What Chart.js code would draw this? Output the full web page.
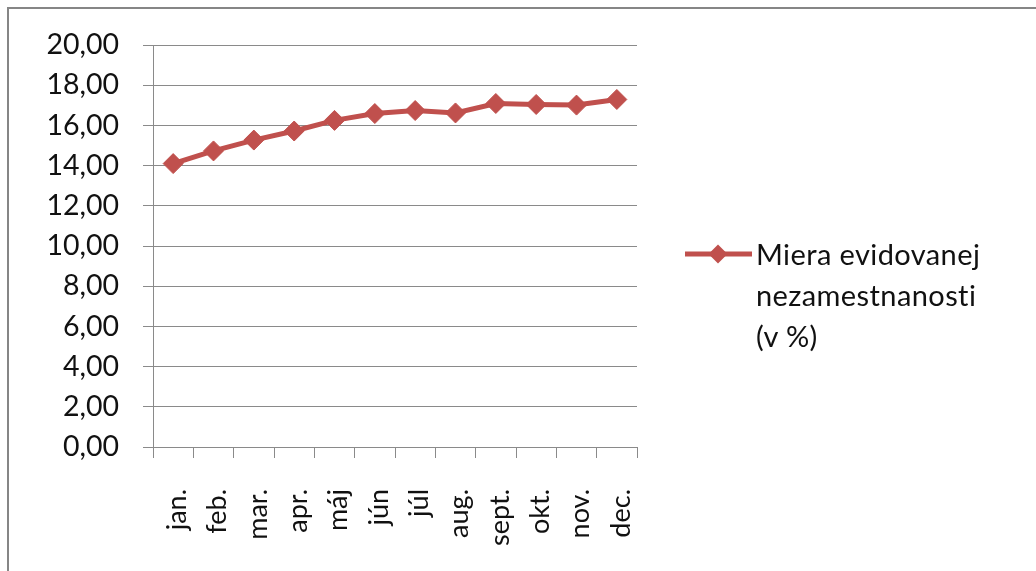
<!DOCTYPE html>
<html>
<head>
<meta charset="utf-8">
<script src="https://cdn.jsdelivr.net/npm/chart.js@4"></script>
<style>
  html, body { margin: 0; padding: 0; background: #fff; }
  #wrap { position: relative; width: 1036px; height: 571px; overflow: hidden; }
  #frame { position: absolute; left: 7px; top: 7px; width: 1040px; height: 600px;
           border-left: 2px solid #868686; border-top: 2px solid #868686; box-sizing: border-box; }
  canvas { position: absolute; left: 0; top: 0; }
  #legend { position: absolute; left: 685px; top: 233px; font-family: Lato, "Open Sans", sans-serif;
            font-size: 29px; line-height: 41px; color: #111; letter-spacing: 0.4px;
            font-variant-ligatures: none; font-feature-settings: "liga" 0; }
  #legend .item { position: relative; padding-left: 71px; white-space: nowrap; }
  #legend .sw { position: absolute; left: 0; top: 9px; }
</style>
</head>
<body>
<div id="wrap">
  <canvas id="c" width="1036" height="571"></canvas>
  <div id="frame"></div>
  <div id="legend"></div>
</div>
<script>
const categories = ["jan.", "feb.", "mar.", "apr.", "máj", "jún", "júl", "aug.", "sept.", "okt.", "nov.", "dec."];
const seriesValues = [14.10, 14.73, 15.27, 15.72, 16.25, 16.59, 16.74, 16.62, 17.09, 17.04, 17.01, 17.29];
const seriesLabelLines = ["Miera evidovanej", "nezamestnanosti", "(v %)"];
const yTickValues = [0, 2, 4, 6, 8, 10, 12, 14, 16, 18, 20];

const RED = "#C0504D";
const GRID = "#8a8a8a";
const FONT = "Lato, 'Open Sans', sans-serif";

Chart.defaults.font.family = FONT;
Chart.defaults.color = "#111";

new Chart(document.getElementById("c"), {
  type: "line",
  data: {
    labels: categories,
    datasets: [{
      label: seriesLabelLines.join(" "),
      data: seriesValues,
      borderColor: RED,
      backgroundColor: RED,
      borderWidth: 5,
      pointStyle: "rectRot",
      pointRadius: 10,
      pointBorderWidth: 1,
      pointBorderColor: RED,
      pointBackgroundColor: RED,
      tension: 0,
      fill: false
    }]
  },
  options: {
    responsive: false,
    animation: false,
    devicePixelRatio: 1,
    layout: { padding: { left: 0, right: 399, top: 45, bottom: 0 } },
    plugins: { legend: { display: false }, tooltip: { enabled: false } },
    scales: {
      x: {
        type: "category",
        offset: true,
        grid: { display: true, offset: true, drawOnChartArea: false, drawTicks: true,
                tickLength: 11, color: GRID, lineWidth: 1 },
        border: { display: true, color: GRID, width: 1 },
        ticks: { minRotation: 90, maxRotation: 90, autoSkip: false, padding: 31,
                 labelOffset: 4, font: { size: 27 }, color: "#111" },
        afterFit: (s) => { s.height = 124; }
      },
      y: {
        min: 0, max: 20,
        afterBuildTicks: (s) => { s.ticks = yTickValues.map(v => ({ value: v })); },
        grid: { color: GRID, lineWidth: 1, drawTicks: true, tickLength: 10 },
        border: { display: true, color: GRID, width: 1 },
        ticks: { padding: 24, font: { size: 28.5 }, color: "#111",
                 callback: (v) => Number(v).toFixed(2).replace(".", ",") },
        afterFit: (s) => { s.width = 153; }
      }
    }
  }
});

// HTML legend built from the series label
const lg = document.getElementById("legend");
const item = document.createElement("div");
item.className = "item";
item.innerHTML =
  '<svg class="sw" width="68" height="24" viewBox="0 0 68 24">' +
  '<line x1="0" y1="12" x2="67" y2="12" stroke="' + RED + '" stroke-width="5"/>' +
  '<polygon points="33,2.5 42.5,12 33,21.5 23.5,12" fill="' + RED + '"/></svg>' +
  seriesLabelLines.join("<br>");
lg.appendChild(item);
</script>
</body>
</html>
